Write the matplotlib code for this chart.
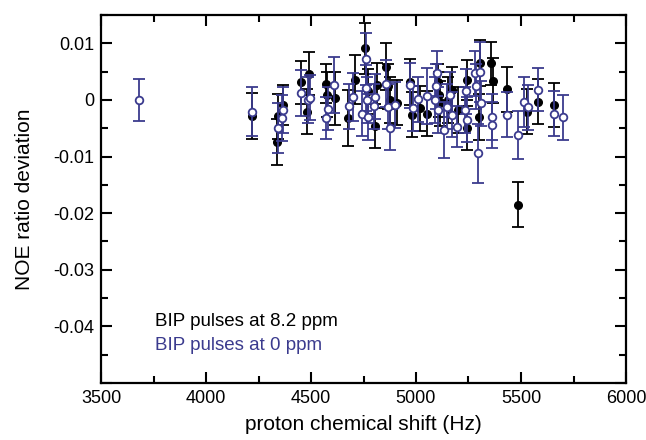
import matplotlib
matplotlib.use("Agg")
import matplotlib.pyplot as plt
from matplotlib.ticker import MultipleLocator, FuncFormatter

plt.rcParams['font.family'] = ['Liberation Sans', 'DejaVu Sans']

# BIP pulses at 8.2 ppm (filled black)
x_black = [4220, 4367, 4341, 4338, 4452, 4492, 4480, 4570, 4614, 4575,
           4678, 4710, 4757, 4770, 4805, 4813, 4857, 4868, 4876, 4908,
           4971, 4982, 5019, 5051, 5106, 5110, 5114, 5154, 5170, 5199,
           5241, 5244, 5305, 5300, 5355, 5365, 5435, 5487, 5527, 5580, 5657]
y_black = [-0.0028, -0.0009, -0.0029, -0.0074, 0.0031, 0.0046, -0.0021, 0.0029, 0.0003, 0.0009,
           -0.0032, 0.0036, 0.0091, 0.0015, -0.0046, 0.0026, 0.0059, 0.0024, 0.0000, -0.0005,
           0.0032, -0.0026, -0.0015, -0.0024, 0.0032, 0.0009, -0.0006, 0.0000, 0.0018, -0.0018,
           0.0035, -0.0050, 0.0065, -0.0030, 0.0065, 0.0034, 0.0019, -0.0185, -0.0021, -0.0003, -0.0009]
e_black = [0.0041, 0.0035, 0.0040, 0.0041, 0.0038, 0.0038, 0.0040, 0.0034, 0.0047, 0.0040,
           0.0049, 0.0044, 0.0045, 0.0040, 0.0039, 0.0040, 0.0041, 0.0040, 0.0040, 0.0040,
           0.0041, 0.0040, 0.0040, 0.0040, 0.0032, 0.0040, 0.0040, 0.0040, 0.0041, 0.0040,
           0.0035, 0.0039, 0.0041, 0.0040, 0.0038, 0.0040, 0.0040, 0.0040, 0.0040, 0.0040, 0.0039]

# BIP pulses at 0 ppm (open blue)
x_blue = [3682, 4220, 4360, 4343, 4367, 4452, 4487, 4495, 4610, 4580,
          4570, 4681, 4701, 4760, 4763, 4768, 4741, 4773, 4805, 4800,
          4857, 4868, 4876, 4900, 4971, 4987, 5011, 5051, 5099, 5095,
          5090, 5106, 5135, 5146, 5162, 5170, 5194, 5237, 5233, 5245,
          5281, 5285, 5297, 5305, 5308, 5360, 5362, 5435, 5484, 5516,
          5535, 5582, 5657, 5701]
y_blue = [0.0000, -0.0021, -0.0032, -0.0050, -0.0018, 0.0012, 0.0000, 0.0004, 0.0026, -0.0016,
          -0.0032, -0.0011, 0.0005, 0.0072, 0.0021, 0.0000, -0.0024, -0.0030, 0.0006, -0.0011,
          0.0029, -0.0012, -0.0050, -0.0009, 0.0026, -0.0015, 0.0001, 0.0007, 0.0047, 0.0024,
          0.0000, -0.0018, -0.0053, -0.0012, 0.0009, -0.0026, -0.0047, 0.0015, -0.0018, -0.0035,
          0.0047, 0.0024, -0.0094, 0.0050, -0.0006, -0.0030, -0.0044, -0.0026, -0.0062, -0.0003,
          -0.0013, 0.0018, -0.0024, -0.0031]
e_blue = [0.0037, 0.0043, 0.0040, 0.0044, 0.0040, 0.0040, 0.0040, 0.0040, 0.0049, 0.0038,
          0.0037, 0.0040, 0.0042, 0.0046, 0.0040, 0.0040, 0.0040, 0.0040, 0.0040, 0.0040,
          0.0042, 0.0040, 0.0039, 0.0040, 0.0040, 0.0040, 0.0040, 0.0050, 0.0040, 0.0040,
          0.0040, 0.0040, 0.0050, 0.0040, 0.0040, 0.0040, 0.0036, 0.0040, 0.0040, 0.0040,
          0.0040, 0.0040, 0.0052, 0.0053, 0.0040, 0.0040, 0.0041, 0.0040, 0.0042, 0.0044,
          0.0040, 0.0038, 0.0040, 0.0040]

label_black = "BIP pulses at 8.2 ppm"
label_blue = "BIP pulses at 0 ppm"
blue = "#3b3b8e"

fig = plt.figure(figsize=(6.46, 4.40), dpi=100)
ax = fig.add_axes([101/646, 1-383/440, 525/646, 368/440])

ax.errorbar(x_black, y_black, yerr=e_black, fmt='o', color='black', ms=5.5,
            mfc='black', mec='black', elinewidth=1.3, capsize=4.5, capthick=1.3, zorder=2)
ax.errorbar(x_blue, y_blue, yerr=e_blue, fmt='o', color=blue, ms=5.5,
            mfc='white', mec=blue, mew=1.3, elinewidth=1.3, capsize=4.5, capthick=1.3, zorder=3)

ax.set_xlim(3500, 6000)
ax.set_ylim(-0.05, 0.015)
ax.xaxis.set_major_locator(MultipleLocator(500))
ax.xaxis.set_minor_locator(MultipleLocator(250))
ax.yaxis.set_major_locator(MultipleLocator(0.01))
ax.yaxis.set_minor_locator(MultipleLocator(0.005))

def yfmt(v, pos):
    if abs(v) < 1e-9:
        return "0"
    if v < -0.045:
        return ""
    return "%.2f" % v
ax.yaxis.set_major_formatter(FuncFormatter(yfmt))

ax.tick_params(which='both', direction='in', top=True, right=True, labelsize=13, width=1.5)
ax.tick_params(which='major', length=8, pad=5)
ax.tick_params(which='minor', length=5)
for s in ax.spines.values():
    s.set_linewidth(1.6)

ax.set_xlabel("proton chemical shift (Hz)", fontsize=15, labelpad=6)
ax.set_ylabel("NOE ratio deviation", fontsize=15, labelpad=14)

ax.text(3755, -0.0392, label_black, color='black', fontsize=13.5, va='center')
ax.text(3755, -0.0434, label_blue, color=blue, fontsize=13.5, va='center')

fig.savefig("out.png", dpi=100)
